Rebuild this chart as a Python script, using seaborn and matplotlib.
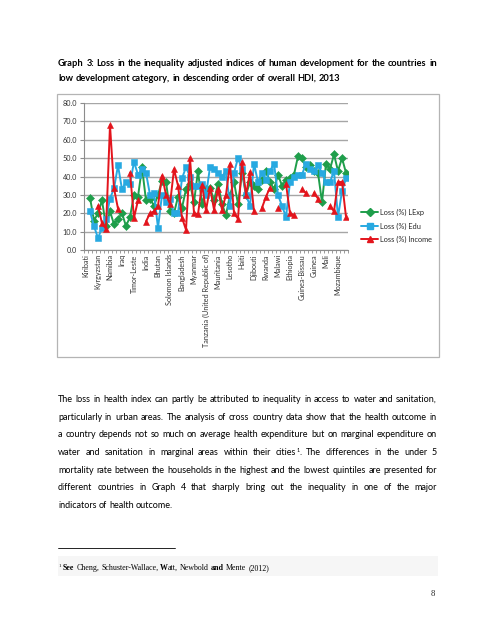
import numpy as np
import pandas as pd
import seaborn as sns
import matplotlib
matplotlib.use("Agg")
import matplotlib.pyplot as plt
from matplotlib.lines import Line2D
from matplotlib.patches import Rectangle

nan = np.nan

# countries labelled on the axis (every third category is labelled)
tick_labels = ["Kiribati", "Kyrgyzstan", "Namibia", "Iraq", "Timor-Leste", "India",
               "Bhutan", "Solomon Islands", "Bangladesh", "Myanmar",
               "Tanzania (United Republic of)", "Mauritania", "Lesotho", "Haiti",
               "Djibouti", "Rwanda", "Malawi", "Ethiopia", "Guinea-Bissau", "Guinea",
               "Mali", "Mozambique"]
n_cat = 66

loss_lexp = [nan, 28.5, 16, 20, 27, 13, 21, 14, 17, 20,
             13, 18, 30, 29, 45, 27, 28, 24, 30, 37.5,
             37, 21, 20, 29, 23, 33, 36, 26, 43, 25,
             33, 34, 27, 36, 25, 19, 30, 37, 25, 42,
             30, 37, 35, 33, 38, 43, 37, 33, 41, 35,
             38, 39, 41, 51, 50, 45, 46, 43, 42, 26,
             47, 44, 52, 43, 50, 42]
loss_edu = [nan, 21, 13, 6.5, 12, 17, 28, 33.5, 46, 33,
            37, 36, 48, 41, 44, 42, 30, 31, 12, 30,
            26, 28, 20, 20, 39, 45, 40, 35, 35, 36,
            30, 45, 44, 42, 40, 43, 24, 42, 50, 44,
            30, 24, 47, 37, 42, 38, 43, 47, 30, 24,
            18, 37, 40, 41, 41, 47, 44, 43, 46, 42,
            37, 37, 43, 18, 32, 39]
loss_income = [nan, nan, nan, 24, 14.5, 11.5, 68, 33.5, 22.5, nan,
               nan, 42, 17.5, 27, nan, 15.5, 20, 21, 24, 40.5,
               30, 25, 44, 35, 17.5, 11, 50, 20, 19.5, 35.5,
               21.5, 34, 22, 33, 22, 30, 47, 20, 17, 48,
               30, 42.5, 21, nan, 23, 29, 34, nan, 23, nan,
               36, 20, 19, nan, 33, 31, nan, 31, 28, nan,
               nan, 24, 21, 37, 37, 18]

series_names = ["Loss (%) LExp", "Loss (%) Edu", "Loss (%) Income"]
colors = ["#1f9e4b", "#27a9e1", "#e3141c"]
markers = ["D", "s", "^"]
marker_sizes = [3.6, 4.0, 4.4]

W, H = 495, 640
sns.set_style("ticks")
plt.rcParams["font.family"] = ["Lato", "DejaVu Sans"]

fig = plt.figure(figsize=(W / 100, H / 100), dpi=100)
renderer = fig.canvas.get_renderer()


def fx(x):
    return x / W


def fy(y):
    return 1 - y / H


# split a series into runs without gaps so lines break where data is missing
def segments(values):
    rows, seg, prev = [], 0, False
    for i, v in enumerate(values):
        ok = not np.isnan(v)
        if ok and not prev:
            seg += 1
        if ok:
            rows.append({"pos": i, "loss": v, "seg": seg})
        prev = ok
    return pd.DataFrame(rows)


# chart frame
fig.add_artist(Rectangle((fx(57), fy(357)), fx(439) - fx(57), fy(94) - fy(357),
                         transform=fig.transFigure, fill=False,
                         edgecolor="#b4b4b4", lw=0.9))

ax = fig.add_axes([fx(84), fy(250), fx(348) - fx(84), fy(103) - fy(250)])
for vals, c, m, ms in zip([loss_lexp, loss_edu, loss_income], colors, markers, marker_sizes):
    sns.lineplot(data=segments(vals), x="pos", y="loss", units="seg", estimator=None,
                 sort=False, color=c, marker=m, markersize=ms, markeredgecolor=c,
                 markeredgewidth=0.4, lw=1.4, ax=ax, legend=False)

ax.set_xlim(-0.5, n_cat - 0.5)
ax.set_ylim(0, 80)
ax.set_yticks(range(0, 81, 10))
ax.set_yticklabels([f"{v:.1f}" for v in range(0, 81, 10)])
ax.set_xticks(np.arange(0, 3 * len(tick_labels), 3))
ax.set_xticklabels(tick_labels, rotation=90)
ax.set_xticks(np.arange(-0.5, n_cat, 1), minor=True)
ax.set_xlabel("")
ax.set_ylabel("")
ax.yaxis.grid(True, color="#a6a6a6", lw=1.0)
ax.set_axisbelow(True)
for side in ["top", "right"]:
    ax.spines[side].set_visible(False)
for side in ["left", "bottom"]:
    ax.spines[side].set_color("#8c8c8c")
    ax.spines[side].set_linewidth(0.8)
ax.tick_params(axis="y", length=3, color="#8c8c8c", labelsize=5.2, pad=2, labelcolor="#333333")
ax.tick_params(axis="x", which="major", length=0, labelsize=5.2, pad=3, labelcolor="#333333")
ax.tick_params(axis="x", which="minor", length=2.5, color="#8c8c8c", width=0.6)

handles = [Line2D([], [], color=c, marker=m, markersize=ms, markeredgecolor=c, lw=1.4)
           for c, m, ms in zip(colors, markers, marker_sizes)]
fig.legend(handles, series_names, loc="center left", bbox_to_anchor=(fx(357), fy(226)),
           frameon=False, fontsize=5.3, handlelength=2.4, labelspacing=0.85,
           handletextpad=0.25, borderpad=0)


# ---- page text -------------------------------------------------------------
def text_w(s, **kw):
    t = fig.text(0, 0, s, **kw)
    w = t.get_window_extent(renderer).width
    t.remove()
    return w


def word_w(word, base):
    if isinstance(word, str):
        return text_w(word, **base)
    return sum(text_w(t, **{**base, **kw}) for t, kw, dy in word)


def put_word(x, y, word, base):
    if isinstance(word, str):
        word = [(word, {}, 0)]
    for t, kw, dy in word:
        p = {**base, **kw}
        fig.text(fx(x), fy(y - dy), t, va="baseline", ha="left", **p)
        x += text_w(t, **p)


def put_line(y, words, x0, x1, base, justify=True):
    widths = [word_w(w, base) for w in words]
    space = text_w("a a", **base) - text_w("aa", **base)
    gap = (x1 - x0 - sum(widths)) / (len(words) - 1) if justify and len(words) > 1 else space
    x = x0
    for w, wd in zip(words, widths):
        put_word(x, y, w, base)
        x += wd + gap


def fit_size(lines, target, base, size0=8.0):
    b = {**base, "fontsize": size0}
    space = text_w("a a", **b) - text_w("aa", **b)
    widest = max(sum(word_w(w, b) for w in ws) + space * (len(ws) - 1) for ws in lines)
    return size0 * target / widest


X0, X1 = 58, 437

title_lines = [
    "Graph 3:  Loss in the inequality adjusted indices of human development for the countries in".split(),
    "low development category, in descending order of overall HDI, 2013".split(),
]
tbase = {"family": ["Lato", "DejaVu Sans"], "weight": "bold", "color": "black"}
tbase["fontsize"] = fit_size(title_lines[:1], 372, tbase)
put_line(66, title_lines[0], X0, X1, tbase)
put_line(81, title_lines[1], X0, X1, tbase, justify=False)

pbase = {"family": ["Lato", "DejaVu Sans"], "color": "black"}
sup = lambda b: {"fontsize": b["fontsize"] * 0.62}
para = [
    "The loss in health index can partly be attributed to inequality in access to water and sanitation,",
    "particularly in urban areas. The analysis of cross country data show that the health outcome in",
    "a country depends not so much on average health expenditure but on marginal expenditure on",
    "water and sanitation in marginal areas within their CITIES The differences in the under 5",
    "mortality rate between the households in the highest and the lowest quintiles are presented for",
    "different countries in Graph 4 that sharply bring out the inequality in one of the major",
    "indicators of health outcome.",
]
para_words = [line.split() for line in para]
pbase["fontsize"] = fit_size(para_words[:2], 374, pbase)
for k, ws in enumerate(para_words):
    ws = [[("cities", {}, 0), ("1", sup(pbase), 3.5), (".", {}, 0)] if w == "CITIES" else w
          for w in ws]
    put_line(402 + 17.7 * k, ws, X0, X1, pbase, justify=(k < len(para_words) - 1))

# footnote
fig.add_artist(Line2D([fx(58), fx(175)], [fy(548), fy(548)], transform=fig.transFigure,
                      color="black", lw=0.6))
fig.add_artist(Rectangle((fx(58), fy(576)), fx(438) - fx(58), fy(556) - fy(576),
                         transform=fig.transFigure, color="#f6f6f6", lw=0, zorder=0))
fbase = {"family": ["Liberation Serif", "DejaVu Serif"], "color": "black"}
bold = {"weight": "bold"}
foot_words = [[("See", bold, 0)], "Cheng,", "Schuster-Wallace,", [("W", bold, 0), ("att,", {}, 0)],
              "Newbold", [("and", bold, 0)], "Mente", "(2012)"]
fbase["fontsize"] = fit_size([foot_words], 204, fbase)
put_word(58.5, 570, [("1", sup(fbase), 3)], fbase)
put_line(570, foot_words, 63, 267, fbase, justify=False)

fig.text(fx(433), fy(596), "8", ha="center", va="baseline",
         family=["Liberation Serif", "DejaVu Serif"], fontsize=fbase["fontsize"] * 1.1)

fig.savefig("out.png", dpi=100)
